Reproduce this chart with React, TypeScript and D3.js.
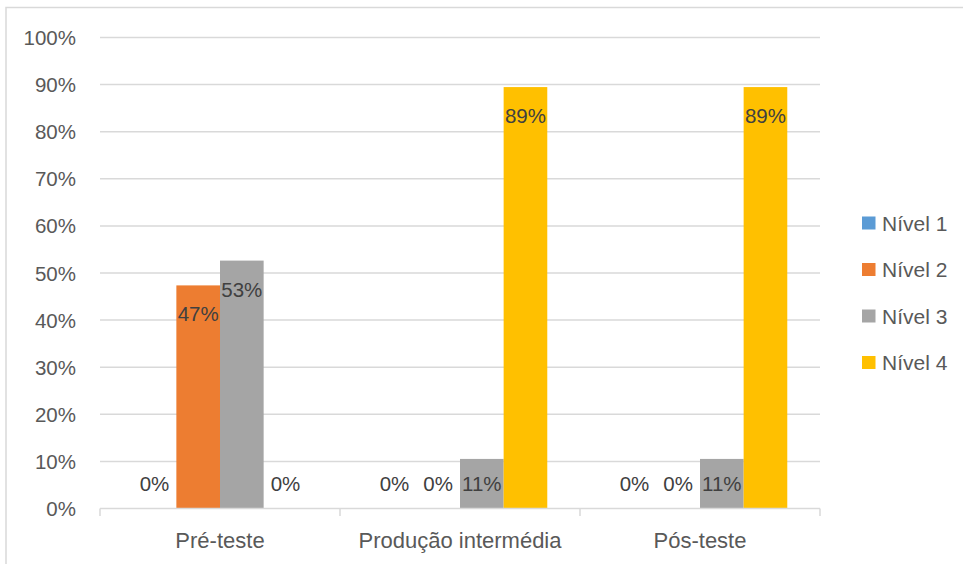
import React from "react";
import * as d3 from "d3";

const categories = ["Pré-teste", "Produção intermédia", "Pós-teste"];
const seriesNames = ["Nível 1", "Nível 2", "Nível 3", "Nível 4"];
// share of students per level (fractions of 19)
const nivel1 = [0, 0, 0];
const nivel2 = [9 / 19, 0, 0];
const nivel3 = [10 / 19, 2 / 19, 2 / 19];
const nivel4 = [0, 17 / 19, 17 / 19];
const yTicks = [0, 0.1, 0.2, 0.3, 0.4, 0.5, 0.6, 0.7, 0.8, 0.9, 1];
const colors = ["#5b9bd5", "#ed7d31", "#a5a5a5", "#ffc000"];

const W = 963;
const H = 564;
const FONT = "'Liberation Sans', Arial, sans-serif";

export default function App() {
  const series = [nivel1, nivel2, nivel3, nivel4];
  const left = 100;
  const right = 820;
  const top = 37.5;
  const bottom = 508.5;

  const x = d3.scaleBand<string>().domain(categories).range([left, right]).paddingInner(0).paddingOuter(0);
  const step = x.bandwidth();
  const barW = step / (series.length + 1.5);
  const groupPad = (step - barW * series.length) / 2;
  const y = d3.scaleLinear().domain([0, 1]).range([bottom, top]);
  const pct = d3.format(".0%");

  const bars: React.ReactNode[] = [];
  const labels: React.ReactNode[] = [];
  categories.forEach((c, ci) => {
    series.forEach((s, si) => {
      const v = s[ci];
      const bx = (x(c) as number) + groupPad + si * barW;
      const by = y(v);
      if (v > 0) {
        bars.push(
          <rect key={`b${ci}-${si}`} x={bx} y={by} width={barW} height={y(0) - by} fill={colors[si]} />
        );
      }
      const ly = Math.min(by + 36, y(0) - 18);
      labels.push(
        <text key={`l${ci}-${si}`} x={bx + barW / 2} y={ly} textAnchor="middle" fontSize={20.5} fill="#404040">
          {pct(v)}
        </text>
      );
    });
  });

  return (
    <svg
      width={W}
      height={H}
      style={{ position: "absolute", left: 0, top: 0, background: "#fff" }}
      fontFamily={FONT}
    >
      <rect x={0} y={0} width={W} height={H} fill="#fff" />
      <rect x={6} y={7.5} width={W + 20} height={H + 20} fill="none" stroke="#d9d9d9" strokeWidth={1.5} />
      {yTicks.map((t) => (
        <g key={t}>
          {t > 0 && <line x1={left} x2={right} y1={y(t)} y2={y(t)} stroke="#d9d9d9" strokeWidth={1.5} />}
          <text x={76} y={y(t) + 7.5} textAnchor="end" fontSize={20.5} fill="#595959">
            {pct(t)}
          </text>
        </g>
      ))}
      {bars}
      <line x1={left} x2={right} y1={y(0)} y2={y(0)} stroke="#d9d9d9" strokeWidth={1.5} />
      {[...categories.map((c) => x(c) as number), right].map((tx, i) => (
        <line key={i} x1={tx} x2={tx} y1={y(0)} y2={y(0) + 7.5} stroke="#d9d9d9" strokeWidth={1.5} />
      ))}
      {categories.map((c) => (
        <text key={c} x={(x(c) as number) + step / 2} y={548} textAnchor="middle" fontSize={22} fill="#595959">
          {c}
        </text>
      ))}
      {labels}
      {seriesNames.map((n, i) => (
        <g key={n} transform={`translate(862, ${223 + i * 46.5})`}>
          <rect x={0} y={-6.5} width={13.5} height={13} fill={colors[i]} />
          <text x={20} y={7.5} fontSize={21} fill="#595959">
            {n}
          </text>
        </g>
      ))}
    </svg>
  );
}
